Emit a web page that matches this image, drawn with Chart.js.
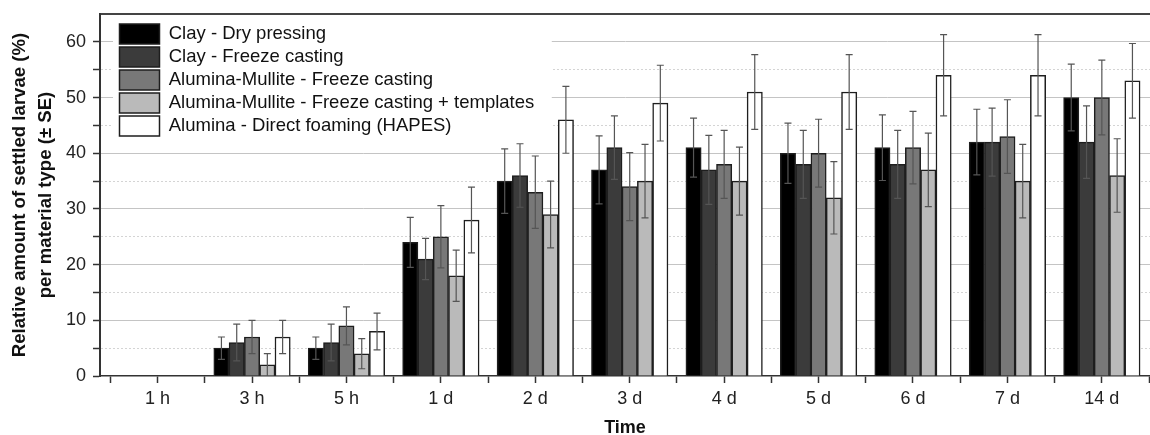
<!DOCTYPE html>
<html>
<head>
<meta charset="utf-8">
<script src="https://cdn.jsdelivr.net/npm/chart.js@4.4.1/dist/chart.umd.min.js"></script>
<style>
html, body { margin: 0; padding: 0; background: #fff; }
#wrap { width: 1150px; height: 435px; position: relative; }
</style>
</head>
<body>
<div id="wrap"><canvas id="chart"></canvas></div>
<script>
// categories and values
const categories = ["1 h", "3 h", "5 h", "1 d", "2 d", "3 d", "4 d", "5 d", "6 d", "7 d", "14 d"];
const seriesNames = [
    "Clay - Dry pressing",
    "Clay - Freeze casting",
    "Alumina-Mullite - Freeze casting",
    "Alumina-Mullite - Freeze casting + templates",
    "Alumina - Direct foaming (HAPES)"
];
const clayDry        = [0, 5, 5, 24, 35, 37, 41, 40, 41, 42, 50];
const clayDryErr     = [0, 2, 2, 4.5, 5.8, 6.1, 5.3, 5.4, 5.9, 5.9, 6];
const clayFreeze     = [0, 6, 6, 21, 36, 41, 37, 38, 38, 42, 42];
const clayFreezeErr  = [0, 3.3, 3.3, 3.7, 5.7, 5.7, 6.2, 6.1, 6.1, 6.1, 6.5];
const amFreeze       = [0, 7, 9, 25, 33, 34, 38, 40, 41, 43, 50];
const amFreezeErr    = [0, 3, 3.4, 5.6, 6.5, 6.1, 6.1, 6.1, 6.5, 6.6, 6.7];
const amTemplates    = [0, 2, 4, 18, 29, 35, 35, 32, 37, 35, 36];
const amTemplatesErr = [0, 2, 2.7, 4.6, 6, 6.6, 6.1, 6.5, 6.6, 6.6, 6.6];
const alumina        = [0, 7, 8, 28, 46, 49, 51, 51, 54, 54, 53];
const aluminaErr     = [0, 3, 3.3, 5.9, 6, 6.8, 6.7, 6.7, 7.3, 7.3, 6.7];
const yTicks = [0, 5, 10, 15, 20, 25, 30, 35, 40, 45, 50, 55, 60, 65];

const values = [clayDry, clayFreeze, amFreeze, amTemplates, alumina];
const errors = [clayDryErr, clayFreezeErr, amFreezeErr, amTemplatesErr, aluminaErr];
const fills = ["#000000", "#3b3b3b", "#787878", "#bababa", "#ffffff"];

Chart.defaults.font.family = "'Liberation Sans', Arial, sans-serif";
Chart.defaults.color = "#222";

// +/- SE whiskers
const errorBars = {
    id: "errorBars",
    afterDatasetsDraw(chart) {
        const ctx = chart.ctx;
        const y = chart.scales.y;
        ctx.save();
        ctx.strokeStyle = "#555";
        ctx.lineWidth = 1.2;
        chart.data.datasets.forEach(function(ds, di) {
            chart.getDatasetMeta(di).data.forEach(function(bar, i) {
                const e = ds.errors[i];
                if (!e) return;
                const v = ds.data[i].y;
                const top = y.getPixelForValue(v + e);
                const bot = y.getPixelForValue(Math.max(v - e, 0));
                ctx.beginPath();
                ctx.moveTo(bar.x, top); ctx.lineTo(bar.x, bot);
                ctx.moveTo(bar.x - 3.5, top); ctx.lineTo(bar.x + 3.5, top);
                if (v - e > 0) { ctx.moveTo(bar.x - 3.5, bot); ctx.lineTo(bar.x + 3.5, bot); }
                ctx.stroke();
            });
        });
        ctx.restore();
    }
};

// legend sits inside the plot on a white box
const legendBox = {
    id: "legendBox",
    afterLayout(chart) {
        const lg = chart.legend, area = chart.chartArea;
        lg.left = area.left + 16.5;
        lg.top = area.top + 7;
        lg.right = area.right;
        lg.bottom = area.bottom;
    },
    beforeDatasetsDraw(chart) {
        const lg = chart.legend, ctx = chart.ctx, area = chart.chartArea;
        const pad = lg.options.labels.padding;
        const col = lg.columnSizes[0];
        const x = lg.left + pad;
        const top = area.top + 2;
        ctx.save();
        ctx.fillStyle = "#fff";
        ctx.fillRect(x - 6.5, top, col.width + 24, lg.top + pad + col.height - top + 3);
        ctx.restore();
        lg.draw();
    }
};

new Chart("chart", {
    type: "bar",
    data: {
        datasets: seriesNames.map(function(name, k) {
            return {
                label: name,
                data: values[k].map(function(v, i) { return {x: i, y: v}; }),
                errors: errors[k],
                backgroundColor: fills[k],
                borderColor: "#1e1e1e",
                borderWidth: 1.5,
                barThickness: 15.3
            };
        })
    },
    options: {
        responsive: true,
        maintainAspectRatio: false,
        animation: false,
        events: [],
        layout: { padding: 0 },
        plugins: {
            tooltip: { enabled: false },
            legend: {
                position: "chartArea",
                align: "start",
                labels: {
                    boxWidth: 40,
                    boxHeight: 20,
                    padding: 3,
                    color: "#111",
                    font: { size: 18.5 }
                }
            }
        },
        scales: {
            x: {
                type: "linear",
                min: -0.61,
                max: 10.51,
                offset: false,
                afterBuildTicks: function(s) {
                    const t = [];
                    for (let k = -1; k <= 2 * categories.length - 1; k++) t.push({value: k / 2});
                    s.ticks = t;
                },
                ticks: {
                    autoSkip: false,
                    maxRotation: 0,
                    padding: 5,
                    font: { size: 18 },
                    callback: function(v) { return Number.isInteger(v) ? categories[v] : ""; }
                },
                grid: { offset: false, drawOnChartArea: false, tickLength: 7, tickColor: "#333", tickWidth: 1.5 },
                border: { color: "#333", width: 1.5 },
                title: {
                    display: true,
                    text: "Time",
                    color: "#111",
                    font: { size: 18, weight: "bold", lineHeight: 0.8 },
                    padding: 0
                },
                afterFit: function(s) { s.height = 59; s.paddingLeft = 0; s.paddingRight = 0; }
            },
            x2: {
                type: "linear",
                position: "top",
                display: true,
                grid: { display: false, drawTicks: false },
                ticks: { display: false },
                border: { color: "#444", width: 2 },
                afterFit: function(s) { s.height = 14; }
            },
            y: {
                min: 0,
                max: 65,
                afterBuildTicks: function(s) { s.ticks = yTicks.map(function(v) { return {value: v}; }); },
                ticks: {
                    padding: 7,
                    font: { size: 18 },
                    callback: function(v) { return v % 10 === 0 ? v : ""; }
                },
                grid: {
                    color: function(c) {
                        const v = c.tick ? c.tick.value : 0;
                        if (v === 0 || v === 65) return "rgba(0,0,0,0)";
                        return v % 10 === 0 ? "#c4c4c4" : "#d4d4d4";
                    },
                    lineWidth: 1,
                    tickLength: 7,
                    tickWidth: 1.5,
                    tickColor: function(c) { return c.tick && c.tick.value === 65 ? "rgba(0,0,0,0)" : "#333"; }
                },
                border: {
                    color: "#333",
                    width: 2,
                    dash: function(c) { return (c.tick && c.tick.value % 10 !== 0) ? [2, 2] : []; }
                },
                title: {
                    display: true,
                    text: ["Relative amount of settled larvae (%)", "per material type (\u00b1 SE)"],
                    color: "#111",
                    font: { size: 18.6, weight: "bold", lineHeight: 26 / 18.6 },
                    padding: { top: 7, bottom: 0 }
                },
                afterFit: function(s) { s.width = 100; s.paddingTop = 0; s.paddingBottom = 0; }
            }
        }
    },
    plugins: [legendBox, errorBars]
});
</script>
</body>
</html>
